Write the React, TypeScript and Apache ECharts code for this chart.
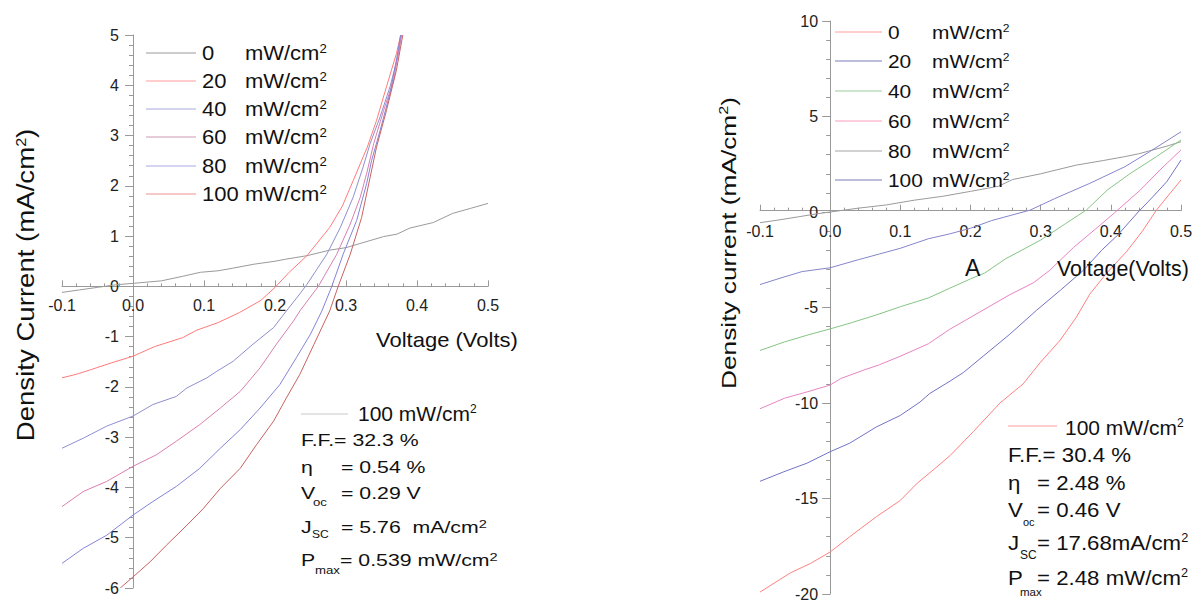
import React, { useEffect, useRef } from 'react';
import * as echarts from 'echarts';

const FONT = '"Liberation Sans", Arial, Helvetica, sans-serif';

// ---------- Left panel: J-V curves (mA/cm2 vs Volts) ----------
const leftDark: [number, number][] = [[-0.1,-0.12],[-0.075,-0.07],[-0.05,-0.02],[-0.025,0.03],[0,0.06],[0.04,0.11],[0.07,0.2],[0.095,0.28],[0.12,0.31],[0.14,0.36],[0.17,0.44],[0.2,0.5],[0.215,0.54],[0.245,0.61],[0.277,0.72],[0.3,0.77],[0.324,0.87],[0.353,0.99],[0.372,1.04],[0.39,1.16],[0.423,1.27],[0.45,1.45],[0.475,1.55],[0.5,1.65]];
const left20: [number, number][] = [[-0.1,-1.82],[-0.08,-1.75],[-0.06,-1.66],[-0.03,-1.52],[0,-1.39],[0.03,-1.2],[0.07,-1.02],[0.09,-0.87],[0.12,-0.72],[0.15,-0.52],[0.18,-0.28],[0.2,-0.02],[0.22,0.28],[0.245,0.61],[0.277,1.17],[0.295,1.6],[0.31,2.1],[0.33,2.77],[0.343,3.3],[0.357,3.97],[0.371,4.63],[0.377,5.0]];
const left40: [number, number][] = [[-0.1,-3.22],[-0.07,-3.02],[-0.037,-2.78],[0,-2.58],[0.028,-2.35],[0.061,-2.19],[0.076,-2.02],[0.104,-1.82],[0.118,-1.69],[0.141,-1.49],[0.169,-1.15],[0.198,-0.82],[0.216,-0.49],[0.235,-0.15],[0.245,0.04],[0.273,0.64],[0.292,1.17],[0.31,1.77],[0.324,2.37],[0.334,2.84],[0.348,3.37],[0.362,3.97],[0.374,4.63],[0.378,5.0]];
const left60: [number, number][] = [[-0.1,-4.38],[-0.07,-4.08],[-0.037,-3.88],[0,-3.58],[0.033,-3.35],[0.061,-3.08],[0.094,-2.75],[0.123,-2.42],[0.151,-2.09],[0.179,-1.62],[0.202,-1.15],[0.226,-0.69],[0.235,-0.49],[0.261,0.0],[0.287,0.64],[0.306,1.24],[0.32,1.77],[0.329,2.24],[0.339,2.84],[0.353,3.5],[0.367,4.1],[0.378,5.0]];
const left80: [number, number][] = [[-0.1,-5.51],[-0.07,-5.21],[-0.037,-4.95],[0,-4.55],[0.028,-4.28],[0.061,-3.98],[0.094,-3.62],[0.123,-3.22],[0.151,-2.85],[0.179,-2.42],[0.207,-1.95],[0.23,-1.42],[0.25,-0.95],[0.266,-0.49],[0.28,0.0],[0.296,0.64],[0.315,1.31],[0.329,2.04],[0.336,2.5],[0.348,3.1],[0.362,3.84],[0.371,4.5],[0.377,5.0]];
const left100: [number, number][] = [[-0.018,-6.0],[0,-5.78],[0.024,-5.48],[0.047,-5.15],[0.076,-4.75],[0.099,-4.42],[0.123,-4.02],[0.151,-3.62],[0.174,-3.15],[0.198,-2.68],[0.216,-2.22],[0.235,-1.75],[0.255,-1.15],[0.277,-0.49],[0.289,0.0],[0.306,0.64],[0.322,1.37],[0.334,2.17],[0.343,2.77],[0.357,3.5],[0.371,4.3],[0.38,5.0]];
const leftCurves = [leftDark, left20, left40, left60, left80, left100];
const leftCurveColors = ['#9a9a9a', '#ff7b7b', '#8f8fcf', '#d97fb0', '#8484d8', '#c96262'];
const leftLegendColors = ['#9a9a9a', '#ff9a9a', '#a8a8dc', '#cc99b0', '#a8a8e6', '#ee9090'];

// ---------- Right panel ----------
const rightDark: [number, number][] = [[-0.1,-0.56],[-0.07,-0.4],[-0.045,-0.25],[-0.02,-0.1],[0,0.0],[0.04,0.2],[0.08,0.37],[0.12,0.62],[0.16,0.82],[0.2,1.08],[0.24,1.35],[0.26,1.7],[0.3,2.0],[0.35,2.45],[0.39,2.7],[0.42,2.9],[0.44,3.05],[0.46,3.25],[0.48,3.45],[0.5,3.68]];
const right20: [number, number][] = [[-0.1,-3.8],[-0.07,-3.45],[-0.04,-3.12],[0,-2.92],[0.04,-2.5],[0.07,-2.2],[0.1,-1.9],[0.14,-1.4],[0.17,-1.15],[0.2,-0.85],[0.23,-0.45],[0.255,-0.2],[0.285,0.1],[0.32,0.7],[0.37,1.5],[0.42,2.37],[0.455,3.15],[0.5,4.2]];
const right40: [number, number][] = [[-0.1,-7.25],[-0.065,-6.8],[-0.03,-6.42],[0,-6.12],[0.03,-5.8],[0.065,-5.4],[0.1,-4.96],[0.14,-4.5],[0.17,-4.0],[0.2,-3.5],[0.22,-3.2],[0.25,-2.45],[0.3,-1.47],[0.335,-0.62],[0.365,0.1],[0.395,1.15],[0.427,2.0],[0.465,2.9],[0.5,3.77]];
const right60: [number, number][] = [[-0.1,-10.3],[-0.065,-9.75],[-0.033,-9.42],[0,-9.06],[0.015,-8.72],[0.05,-8.25],[0.07,-8.0],[0.1,-7.55],[0.14,-6.9],[0.17,-6.15],[0.215,-5.2],[0.255,-4.35],[0.29,-3.7],[0.313,-3.05],[0.347,-1.85],[0.385,-0.68],[0.405,-0.05],[0.442,1.15],[0.47,2.2],[0.5,3.25]];
const right80: [number, number][] = [[-0.1,-14.1],[-0.066,-13.6],[-0.033,-13.15],[0,-12.55],[0.028,-12.1],[0.066,-11.25],[0.1,-10.65],[0.128,-9.95],[0.142,-9.5],[0.171,-8.85],[0.19,-8.4],[0.218,-7.55],[0.256,-6.4],[0.294,-5.15],[0.328,-4.1],[0.361,-3.05],[0.387,-2.0],[0.41,-1.2],[0.439,0.0],[0.46,0.8],[0.48,1.6],[0.5,2.72]];
const right100: [number, number][] = [[-0.1,-19.9],[-0.057,-18.9],[-0.028,-18.4],[0,-17.8],[0.028,-17.0],[0.066,-15.95],[0.1,-15.1],[0.124,-14.2],[0.147,-13.5],[0.171,-12.75],[0.204,-11.5],[0.242,-10.0],[0.275,-9.0],[0.299,-7.9],[0.328,-6.7],[0.351,-5.5],[0.37,-4.3],[0.394,-3.2],[0.423,-2.05],[0.445,-1.0],[0.465,0.1],[0.5,1.68]];
const rightCurves = [rightDark, right20, right40, right60, right80, right100];
const rightCurveColors = ['#9a9a9a', '#8585cc', '#85c585', '#e884c4', '#7373c8', '#ff8080'];
const rightLegendColors = ['#ff9c9c', '#7a7ab8', '#9ccc9c', '#ff9cbc', '#a5a5a5', '#7a7ab8'];

const legendLabels = ['0', '20', '40', '60', '80', '100'];

const leftStats = ['F.F.= 32.3 %', '= 0.54 %', '= 0.29 V', '= 5.76  mA/cm', '= 0.539 mW/cm'];
const rightStats = ['F.F.= 30.4 %', '= 2.48 %', '= 0.46 V', '= 17.68mA/cm', '= 2.48 mW/cm'];

const AXC = '#999';

// grid boxes (pixels) and axis ranges
const LG = { left: 62, top: 35, width: 426, height: 553 };
const RG = { left: 760, top: 21, width: 421, height: 575 };
const X_MIN = -0.1, X_MAX = 0.5;
const LY_MIN = -6, LY_MAX = 5;
const RY_MIN = -20, RY_MAX = 10;

function txt(x: number, y: number, text: string, fontSize: number, o: any = {}) {
  const style: any = {
    text,
    fill: o.fill || '#111',
    fontSize,
    fontFamily: FONT,
    align: o.align || 'left',
    verticalAlign: 'middle',
    textAlign: o.align || 'left',
    textVerticalAlign: 'middle',
  };
  if (o.rich) style.rich = o.rich;
  return { type: 'text', x, y, scaleX: o.scaleX || 1, rotation: o.rotation || 0, silent: true, z: 10, style };
}

function supRich(main: number, sup: number, extra: any = {}) {
  return {
    u: { fontSize: main, fontFamily: FONT, fill: '#111' },
    s: { fontSize: sup, fontFamily: FONT, fill: '#111', verticalAlign: 'top', lineHeight: sup },
    ...extra,
  };
}

// offsets that place each axis on the other axis' zero
function xOffset(gr: any, ymin: number, ymax: number) {
  const zeroY = gr.top + (ymax / (ymax - ymin)) * gr.height;
  return -(gr.top + gr.height - zeroY);
}
function yOffset(gr: any) {
  const zeroX = gr.left + ((0 - X_MIN) / (X_MAX - X_MIN)) * gr.width;
  return -(zeroX - gr.left);
}

function xAxisCfg(gi: number, offset: number, margin: number, fs: number) {
  return {
    gridIndex: gi, type: 'value', min: X_MIN, max: X_MAX, interval: 0.1, position: 'bottom', offset,
    axisLine: { show: true, onZero: false, lineStyle: { color: AXC, width: 1 } },
    axisTick: { show: true, inside: true, length: 6, lineStyle: { color: AXC } },
    minorTick: { show: true, splitNumber: 5, length: 3, lineStyle: { color: AXC } },
    splitLine: { show: false },
    axisLabel: { margin, fontSize: fs, color: '#222', fontFamily: FONT, formatter: (v: number) => v.toFixed(1) },
  };
}

function yAxisCfg(gi: number, offset: number, min: number, max: number, interval: number, margin: number, fs: number) {
  return {
    gridIndex: gi, type: 'value', min, max, interval, position: 'left', offset,
    axisLine: { show: true, onZero: false, lineStyle: { color: AXC, width: 1 } },
    axisTick: { show: true, inside: false, length: 8, lineStyle: { color: AXC } },
    minorTick: { show: true, splitNumber: 5, length: 4, lineStyle: { color: AXC } },
    splitLine: { show: false },
    axisLabel: { margin, fontSize: fs, color: '#222', fontFamily: FONT },
  };
}

export default function App() {
  const ref = useRef<HTMLDivElement>(null);
  useEffect(() => {
    document.body.style.margin = '0';
    const chart = echarts.init(ref.current!, null, { renderer: 'svg' });

    const series: any[] = [];
    leftCurves.forEach((d, i) => series.push({
      name: 'L' + legendLabels[i], type: 'line', xAxisIndex: 0, yAxisIndex: 0, data: d,
      showSymbol: false, symbol: 'none', silent: true, lineStyle: { width: 1, color: leftCurveColors[i] },
    }));
    rightCurves.forEach((d, i) => series.push({
      name: 'R' + legendLabels[i], type: 'line', xAxisIndex: 1, yAxisIndex: 1, data: d,
      showSymbol: false, symbol: 'none', silent: true, lineStyle: { width: 1, color: rightCurveColors[i] },
    }));

    const g: any[] = [];
    // Left legend
    const lRows = [53, 81, 109, 137, 166, 194];
    legendLabels.forEach((lab, i) => {
      g.push({ type: 'line', silent: true, shape: { x1: 146, y1: lRows[i], x2: 196, y2: lRows[i] }, style: { stroke: leftLegendColors[i], lineWidth: 1 } });
      g.push(txt(202, lRows[i], `{n|${lab}}{u|mW/cm}{s|2}`, 20, { scaleX: 1.1, rich: supRich(20, 12, { n: { width: 39, fontSize: 20, fontFamily: FONT, fill: '#111' } }) }));
    });
    // Right legend
    const rRows = [32, 61, 91, 121, 151, 180];
    legendLabels.forEach((lab, i) => {
      g.push({ type: 'line', silent: true, shape: { x1: 835, y1: rRows[i], x2: 882, y2: rRows[i] }, style: { stroke: rightLegendColors[i], lineWidth: 1 } });
      g.push(txt(888, rRows[i], `{n|${lab}}{u|mW/cm}{s|2}`, 19, { scaleX: 1.1, rich: supRich(19, 11, { n: { width: 40, fontSize: 19, fontFamily: FONT, fill: '#111' } }) }));
    });

    // Axis titles
    g.push(txt(26, 285, 'Density Current (mA/cm{s|2})', 24, { rotation: Math.PI / 2, scaleX: 1.15, align: 'center', rich: supRich(24, 14) }));
    g.push(txt(376, 340, 'Voltage (Volts)', 20, { scaleX: 1.1 }));
    g.push(txt(728, 243, 'Density current (mA/cm{s|2})', 21, { rotation: Math.PI / 2, scaleX: 1.25, align: 'center', rich: supRich(21, 13) }));
    g.push(txt(1057, 268, 'Voltage(Volts)', 23, { scaleX: 0.93 }));
    g.push(txt(965, 268, 'A', 23));

    // Left annotation block
    g.push({ type: 'line', silent: true, shape: { x1: 301, y1: 414, x2: 348, y2: 414 }, style: { stroke: '#c8c8c8', lineWidth: 1 } });
    g.push(txt(358, 413, '{u|100 mW/cm}{s|2}', 21, { rich: supRich(21, 12) }));
    const ls = 1.33;
    g.push(txt(301, 440, leftStats[0], 16, { scaleX: ls }));
    g.push(txt(301, 467, 'η', 16, { scaleX: ls }));
    g.push(txt(341, 467, leftStats[1], 16, { scaleX: ls }));
    g.push(txt(301, 493, 'V', 16, { scaleX: ls }));
    g.push(txt(313, 502, 'oc', 11, { scaleX: 1.2 }));
    g.push(txt(341, 493, leftStats[2], 16, { scaleX: ls }));
    g.push(txt(301, 527, 'J', 16, { scaleX: ls }));
    g.push(txt(312, 534, 'SC', 11, { scaleX: 1.1 }));
    g.push(txt(341, 527, `{u|${leftStats[3]}}{s|2}`, 16, { scaleX: ls, rich: supRich(16, 11) }));
    g.push(txt(301, 560, 'P', 16, { scaleX: ls }));
    g.push(txt(315, 570, 'max', 11, { scaleX: 1.2 }));
    g.push(txt(340, 560, `{u|${leftStats[4]}}{s|2}`, 16, { scaleX: ls, rich: supRich(16, 11) }));

    // Right annotation block
    g.push({ type: 'line', silent: true, shape: { x1: 1008, y1: 426, x2: 1057, y2: 426 }, style: { stroke: '#ff9c9c', lineWidth: 1 } });
    g.push(txt(1065, 427, '{u|100 mW/cm}{s|2}', 21, { rich: supRich(21, 12) }));
    const rs = 1.06;
    g.push(txt(1008, 455, rightStats[0], 21, { scaleX: rs }));
    g.push(txt(1008, 483, 'η', 21, { scaleX: rs }));
    g.push(txt(1037, 483, rightStats[1], 21, { scaleX: rs }));
    g.push(txt(1008, 510, 'V', 21, { scaleX: rs }));
    g.push(txt(1023, 522, 'oc', 11));
    g.push(txt(1037, 510, rightStats[2], 21, { scaleX: rs }));
    g.push(txt(1008, 543, 'J', 21, { scaleX: rs }));
    g.push(txt(1020, 555, 'SC', 12));
    g.push(txt(1037, 543, `{u|${rightStats[3]}}{s|2}`, 21, { scaleX: rs, rich: supRich(21, 12) }));
    g.push(txt(1008, 578, 'P', 21, { scaleX: rs }));
    g.push(txt(1020, 592, 'max', 11.5));
    g.push(txt(1037, 578, `{u|${rightStats[4]}}{s|2}`, 21, { scaleX: rs, rich: supRich(21, 12) }));

    chart.setOption({
      animation: false,
      backgroundColor: '#ffffff',
      grid: [
        { ...LG, containLabel: false },
        { ...RG, containLabel: false },
      ],
      xAxis: [
        xAxisCfg(0, xOffset(LG, LY_MIN, LY_MAX), 11, 16),
        xAxisCfg(1, xOffset(RG, RY_MIN, RY_MAX), 13, 16),
      ],
      yAxis: [
        yAxisCfg(0, yOffset(LG), LY_MIN, LY_MAX, 1, 14, 16),
        yAxisCfg(1, yOffset(RG), RY_MIN, RY_MAX, 5, 12, 16),
      ],
      series,
      graphic: g,
    });
    return () => chart.dispose();
  }, []);
  return <div ref={ref} style={{ width: 1203, height: 602 }} />;
}
